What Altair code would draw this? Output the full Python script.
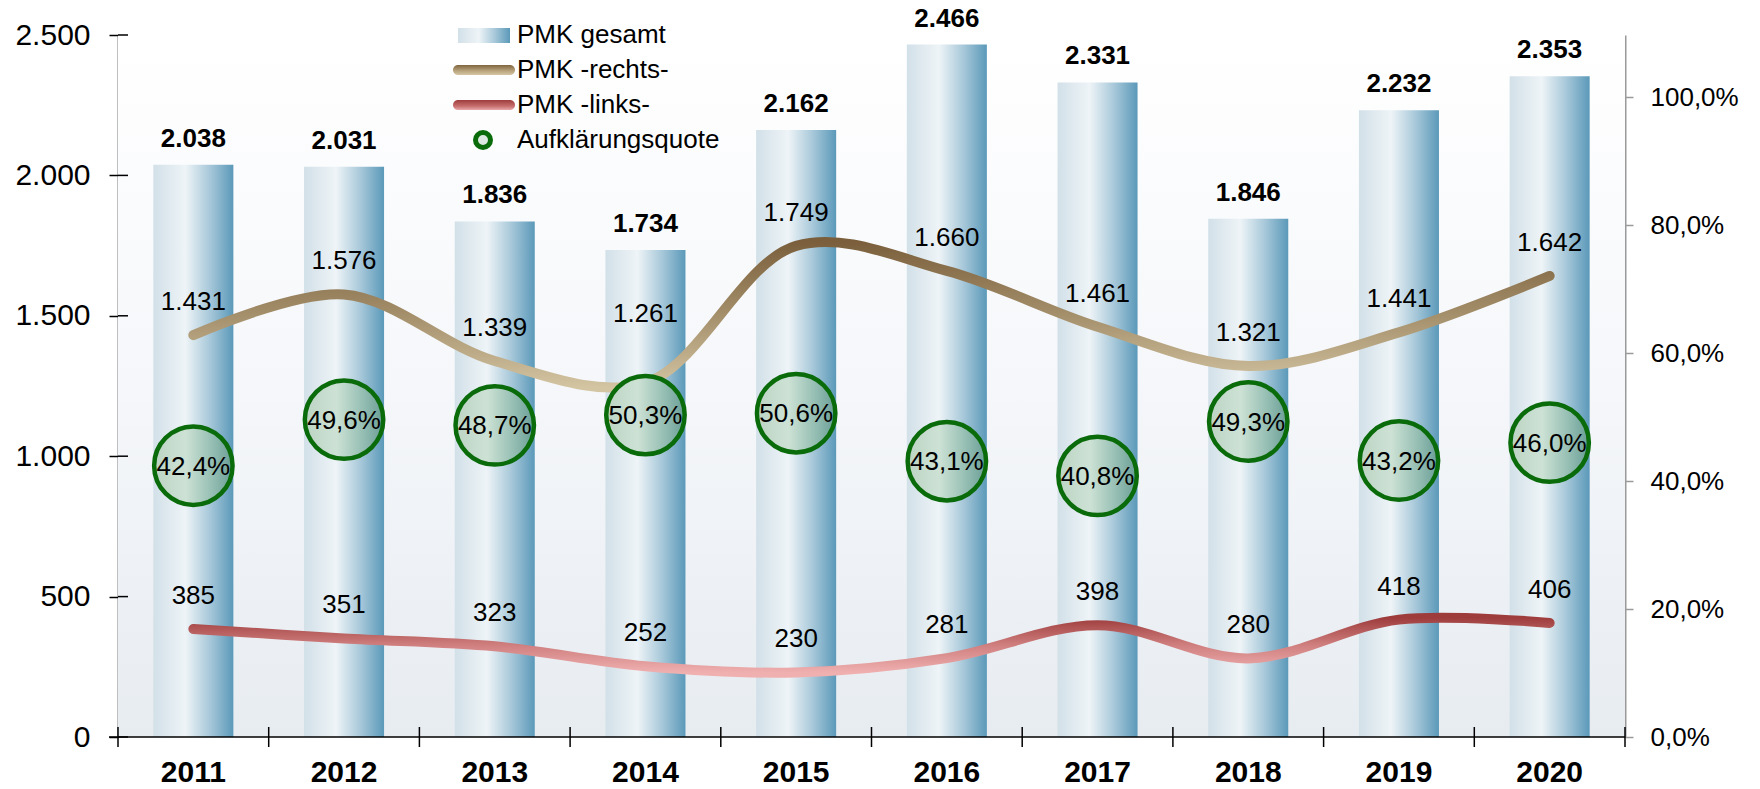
import altair as alt
import pandas as pd

# ---------------- data ----------------
years = ["2011", "2012", "2013", "2014", "2015", "2016", "2017", "2018", "2019", "2020"]
gesamt = [2038, 2031, 1836, 1734, 2162, 2466, 2331, 1846, 2232, 2353]
rechts = [1431, 1576, 1339, 1261, 1749, 1660, 1461, 1321, 1441, 1642]
links = [385, 351, 323, 252, 230, 281, 398, 280, 418, 406]
quote = [42.4, 49.6, 48.7, 50.3, 50.6, 43.1, 40.8, 49.3, 43.2, 46.0]

legend_labels = ["PMK gesamt", "PMK -rechts-", "PMK -links-", "Aufklärungsquote"]
left_ticks = [0, 500, 1000, 1500, 2000, 2500]
right_ticks = [0, 0.2, 0.4, 0.6, 0.8, 1.0]


def de_int(v):
    return f"{v:,}".replace(",", ".")


df = pd.DataFrame({
    "year": years,
    "gesamt": gesamt,
    "rechts": rechts,
    "links": links,
    "quote": [q / 100 for q in quote],
})
df["gesamt_lbl"] = [de_int(v) for v in gesamt]
df["rechts_lbl"] = [de_int(v) for v in rechts]
df["links_lbl"] = [de_int(v) for v in links]
df["quote_lbl"] = [f"{q:.1f}".replace(".", ",") + "%" for q in quote]

# ---------------- style ----------------
W, H = 1507, 702
FONT = "Liberation Sans"
PAD_IN = 0.469
STEP = W / len(years)


def grad(stops, horizontal=True):
    return alt.Gradient(
        gradient="linear",
        stops=[alt.GradientStop(color=c, offset=o) for c, o in stops],
        x1=0, y1=0, x2=1 if horizontal else 0, y2=0 if horizontal else 1,
    )


bar_grad = grad([("#d2e0e8", 0), ("#eef4f7", 0.4), ("#a9c9da", 0.7), ("#5b99b9", 1)])
bg_grad = grad([("#ffffff", 0), ("#f5f7fa", 0.5), ("#e7ecf1", 1)], horizontal=False)
rechts_grad = grad([("#7b5f3c", 0), ("#a08a66", 0.45), ("#d3c4a2", 1)], horizontal=False)
links_grad = grad([("#9e3c3c", 0), ("#d07f7f", 0.5), ("#f0b0b0", 1)], horizontal=False)
circle_grad = grad([("#bcd4c4", 0), ("#cde2d5", 0.4), ("#94bdb2", 0.75), ("#6a9e96", 1)])
rechts_sw = grad([("#7f6540", 0), ("#b9a57f", 0.6), ("#d6c6a4", 1)], horizontal=False)
links_sw = grad([("#9e3c3c", 0), ("#c66c6c", 0.6), ("#e8a8a8", 1)], horizontal=False)

xscale = alt.Scale(domain=years, paddingInner=PAD_IN, paddingOuter=PAD_IN / 2)
yL = alt.Scale(domain=[0, 2500], nice=False, zero=True)
yR = alt.Scale(domain=[0, 1.097], nice=False, zero=True)

left_axis = alt.Axis(
    orient="left", values=left_ticks,
    labelExpr="replace(format(datum.value, ','), ',', '.')",
    labelFont=FONT, labelFontSize=30, labelColor="black", domainColor="black",
    tickColor="black", tickSize=9, tickWidth=1.5, domainWidth=1.5, labelPadding=19,
    grid=False, title=None,
)
right_axis = alt.Axis(
    orient="right", values=right_ticks,
    labelExpr="replace(format(datum.value, '.1%'), '.', ',')",
    labelFont=FONT, labelFontSize=26, labelColor="black", domainColor="#9a9a9a",
    tickColor="#9a9a9a", tickSize=8, tickWidth=1.5, domainWidth=2, labelPadding=17,
    grid=False, title=None,
)


def X(**kw):
    return alt.X("year:N", scale=xscale, sort=years, axis=None, title=None, **kw)


def YL(field, axis=None):
    return alt.Y(field, scale=yL, axis=axis, title=None)


def YR(field, axis=None):
    return alt.Y(field, scale=yR, axis=axis, title=None)


base = alt.Chart(df)
one = pd.DataFrame({"a": [0]})

background = alt.Chart(one).mark_rect(fill=bg_grad).encode(
    x=alt.value(0), x2=alt.value(W), y=alt.value(0), y2=alt.value(H)
)

bars = base.mark_bar(fill=bar_grad).encode(x=X(), y=YL("gesamt:Q", left_axis))
bar_text = base.mark_text(
    font=FONT, fontSize=26, fontWeight="bold", baseline="alphabetic", dy=-18, color="black"
).encode(x=X(), y=YL("gesamt:Q"), text="gesamt_lbl:N")

# category axis drawn from the band scale: baseline, crossing ticks, labels
x_domain = alt.Chart(one).mark_rule(color="black", strokeWidth=1.5).encode(
    x=alt.value(-9), x2=alt.value(W), y=alt.value(H)
)
x_ticks = base.mark_rule(color="black", strokeWidth=1.5, xOffset=-STEP * PAD_IN / 2).encode(
    x=X(bandPosition=0), y=alt.value(H - 10), y2=alt.value(H + 10)
)
x_tick_end = alt.Chart(one).mark_rule(color="black", strokeWidth=1.5).encode(
    x=alt.value(W), y=alt.value(H - 10), y2=alt.value(H + 10)
)
x_labels = base.mark_text(
    font=FONT, fontSize=30, fontWeight="bold", baseline="middle", color="black"
).encode(x=X(), y=alt.value(H + 36), text="year:N")

# inward halves of the left axis ticks
y_inner = alt.Chart(pd.DataFrame({"t": left_ticks})).mark_rule(
    color="black", strokeWidth=1.5
).encode(y=YL("t:Q"), x=alt.value(0), x2=alt.value(10))

line_r = base.mark_line(
    stroke=rechts_grad, strokeWidth=10, strokeCap="round", strokeJoin="round",
    interpolate="catmull-rom",
).encode(x=X(), y=YL("rechts:Q"))
line_l = base.mark_line(
    stroke=links_grad, strokeWidth=10, strokeCap="round", strokeJoin="round",
    interpolate="catmull-rom",
).encode(x=X(), y=YL("links:Q"))

txt_kw = dict(font=FONT, fontSize=26, baseline="alphabetic", color="black")
r_text = base.transform_filter("datum.year != '2014'").mark_text(dy=-25, **txt_kw).encode(
    x=X(), y=YL("rechts:Q"), text="rechts_lbl:N"
)
r_text14 = base.transform_filter("datum.year == '2014'").mark_text(dy=-61, **txt_kw).encode(
    x=X(), y=YL("rechts:Q"), text="rechts_lbl:N"
)
l_text = base.mark_text(dy=-25, **txt_kw).encode(x=X(), y=YL("links:Q"), text="links_lbl:N")

circles = base.mark_point(
    shape="circle", size=6150, filled=True, fill=circle_grad, stroke="#0a6b0a",
    strokeWidth=4.5, opacity=1, fillOpacity=1, strokeOpacity=1,
).encode(x=X(), y=YR("quote:Q", right_axis))
c_text = base.mark_text(font=FONT, fontSize=26, baseline="middle", dy=1, color="black").encode(
    x=X(), y=YR("quote:Q"), text="quote_lbl:N"
)

# ---------------- legend (drawn by hand) ----------------
lg_bar = alt.Chart(one).mark_rect(fill=bar_grad).encode(
    x=alt.value(340), x2=alt.value(392), y=alt.value(-7), y2=alt.value(8)
)
lg_r = alt.Chart(one).mark_rect(fill=rechts_sw, cornerRadius=5).encode(
    x=alt.value(335), x2=alt.value(397), y=alt.value(30), y2=alt.value(40)
)
lg_l = alt.Chart(one).mark_rect(fill=links_sw, cornerRadius=5).encode(
    x=alt.value(335), x2=alt.value(397), y=alt.value(65), y2=alt.value(75)
)
lg_c = alt.Chart(one).mark_point(
    shape="circle", size=225, filled=True, fill="#dce8e0", stroke="#0a6b0a",
    strokeWidth=5, opacity=1,
).encode(x=alt.value(365), y=alt.value(105))
lg_texts = []
for i, lab in enumerate(legend_labels):
    lg_texts.append(
        alt.Chart(pd.DataFrame({"label": [lab]})).mark_text(
            font=FONT, fontSize=26, align="left", baseline="middle", color="black"
        ).encode(x=alt.value(399), y=alt.value(35 * i), text="label:N")
    )

chart = (
    alt.layer(
        background, bars, bar_text, x_domain, x_ticks, x_tick_end, x_labels, y_inner,
        line_r, line_l, r_text, r_text14, l_text, circles, c_text,
        lg_bar, lg_r, lg_l, lg_c, *lg_texts,
    )
    .resolve_scale(y="independent")
    .properties(
        width=W, height=H,
        padding={"left": 118, "top": 35, "right": 135, "bottom": 52},
        autosize=alt.AutoSizeParams(type="none"),
        background="white",
    )
    .configure_view(stroke=None)
)

chart.save("out.html", embed_options={"renderer": "svg", "actions": False})
